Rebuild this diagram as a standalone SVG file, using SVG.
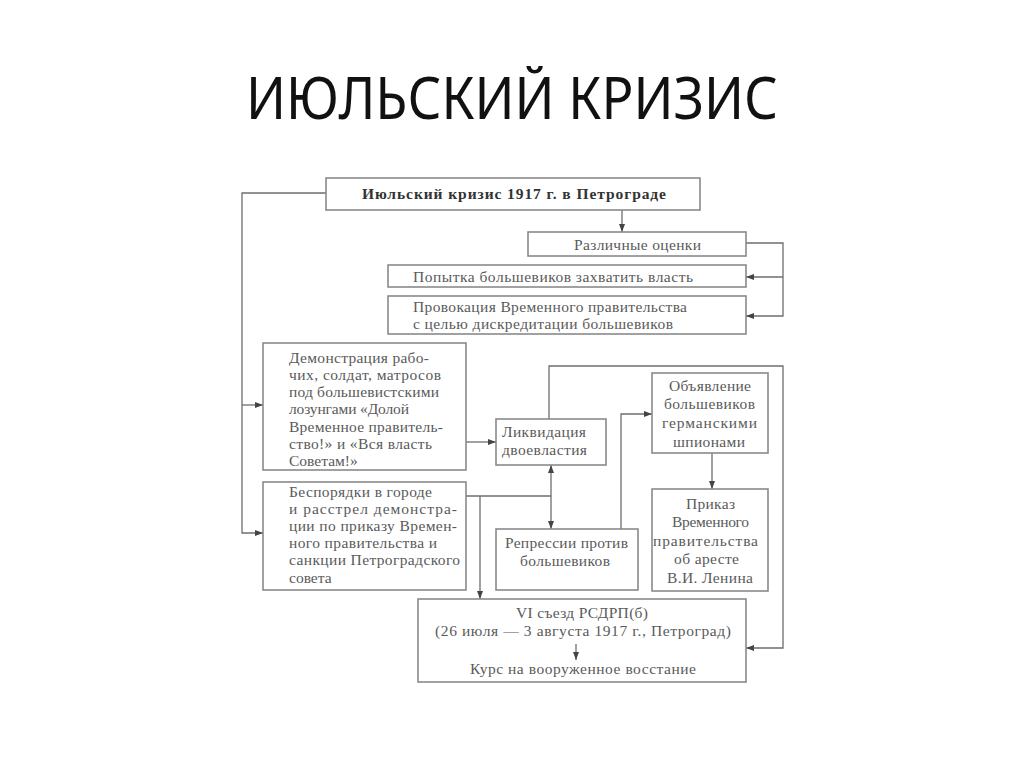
<svg xmlns="http://www.w3.org/2000/svg" width="1024" height="767" viewBox="0 0 1024 767">
<style>
.box{fill:#fff;stroke:#8a8a8a;stroke-width:1.6}
.t{font-family:"Liberation Serif","DejaVu Serif",serif;font-size:15.5px;fill:#5a5a5a}
.b{font-family:"Liberation Serif","DejaVu Serif",serif;font-size:15.5px;font-weight:bold;fill:#333}
.c{fill:none;stroke:#6e6e6e;stroke-width:1.3}
</style>
<defs>
<marker id="ah" markerUnits="userSpaceOnUse" markerWidth="8" markerHeight="6" refX="8" refY="3" orient="auto-start-reverse">
<path d="M0,0 L8,3 L0,6 z" fill="#444"/>
</marker>
</defs>
<rect width="1024" height="767" fill="#fff"/>
<text x="246" y="119" textLength="532" lengthAdjust="spacingAndGlyphs" font-family="'Noto Sans','Open Sans',sans-serif" font-size="59" fill="#111">ИЮЛЬСКИЙ КРИЗИС</text>

<g id="connectors">
<polyline class="c" points="326,193 242,193 242,533 263,533" marker-end="url(#ah)"/>
<line class="c" x1="242" y1="405" x2="263" y2="405" marker-end="url(#ah)"/>
<line class="c" x1="622" y1="210" x2="622" y2="232" marker-end="url(#ah)"/>
<polyline class="c" points="746,243 783,243 783,316 746,316" marker-end="url(#ah)"/>
<line class="c" x1="783" y1="277" x2="746" y2="277" marker-end="url(#ah)"/>
<line class="c" x1="466" y1="442" x2="496" y2="442" marker-end="url(#ah)"/>
<polyline class="c" points="549,419 549,366 783,366 783,648 746,648" marker-end="url(#ah)"/>
<line class="c" x1="551" y1="465" x2="551" y2="529" marker-start="url(#ah)" marker-end="url(#ah)"/>
<polyline class="c" points="466,496 551,496"/>
<line class="c" x1="480" y1="496" x2="480" y2="599" marker-end="url(#ah)"/>
<polyline class="c" points="621,529 621,414 652,414" marker-end="url(#ah)"/>
<line class="c" x1="712" y1="453" x2="712" y2="489" marker-end="url(#ah)"/>
</g>

<g id="n-main">
<rect class="box" x="326" y="178" width="374" height="32"/>
<text class="b" x="362" y="199" textLength="304">Июльский кризис 1917 г. в Петрограде</text>
</g>
<g id="n-ocenki">
<rect class="box" x="528" y="232" width="218" height="24"/>
<text class="t" x="574" y="250" textLength="127">Различные оценки</text>
</g>
<g id="n-popytka">
<rect class="box" x="388" y="265" width="358" height="22"/>
<text class="t" x="413" y="282" textLength="280">Попытка большевиков захватить власть</text>
</g>
<g id="n-provokacia">
<rect class="box" x="388" y="296" width="358" height="38"/>
<text class="t" x="413" y="312" textLength="274">Провокация Временного правительства</text>
<text class="t" x="413" y="329" textLength="260">с целью дискредитации большевиков</text>
</g>
<g id="n-demonstracia">
<rect class="box" x="263" y="343" width="203" height="127"/>
<text class="t" x="289" y="363" textLength="140">Демонстрация рабо-</text>
<text class="t" x="289" y="380" textLength="152">чих, солдат, матросов</text>
<text class="t" x="289" y="397" textLength="150">под большевистскими</text>
<text class="t" x="289" y="414" textLength="120">лозунгами «Долой</text>
<text class="t" x="289" y="432" textLength="154">Временное правитель-</text>
<text class="t" x="289" y="449" textLength="143">ство!» и «Вся власть</text>
<text class="t" x="289" y="466">Советам!»</text>
</g>
<g id="n-besporyadki">
<rect class="box" x="263" y="482" width="203" height="108"/>
<text class="t" x="289" y="497" textLength="143">Беспорядки в городе</text>
<text class="t" x="289" y="514" textLength="168">и расстрел демонстра-</text>
<text class="t" x="289" y="531" textLength="168">ции по приказу Времен-</text>
<text class="t" x="289" y="548" textLength="148">ного правительства и</text>
<text class="t" x="289" y="565" textLength="171">санкции Петроградского</text>
<text class="t" x="289" y="583">совета</text>
</g>
<g id="n-likvidacia">
<rect class="box" x="496" y="419" width="110" height="46"/>
<text class="t" x="502" y="437" textLength="84">Ликвидация</text>
<text class="t" x="502" y="455" textLength="85">двоевластия</text>
</g>
<g id="n-obyavlenie">
<rect class="box" x="652" y="373" width="116" height="80"/>
<text class="t" x="669" y="391" textLength="82">Объявление</text>
<text class="t" x="664" y="409" textLength="91">большевиков</text>
<text class="t" x="662" y="428" textLength="95">германскими</text>
<text class="t" x="673" y="447" textLength="72">шпионами</text>
</g>
<g id="n-prikaz">
<rect class="box" x="652" y="489" width="116" height="102"/>
<text class="t" x="686" y="509" textLength="49">Приказ</text>
<text class="t" x="672" y="527" textLength="77">Временного</text>
<text class="t" x="653" y="546" textLength="105">правительства</text>
<text class="t" x="674" y="564" textLength="65">об аресте</text>
<text class="t" x="667" y="583" textLength="86">В.И. Ленина</text>
</g>
<g id="n-repressii">
<rect class="box" x="496" y="529" width="142" height="61"/>
<text class="t" x="505" y="548" textLength="123">Репрессии против</text>
<text class="t" x="520" y="566" textLength="90">большевиков</text>
</g>
<g id="n-syezd">
<rect class="box" x="418" y="599" width="328" height="83"/>
<text class="t" x="516" y="618" textLength="132">VI съезд РСДРП(б)</text>
<text class="t" x="435" y="636" textLength="296">(26 июля — 3 августа 1917 г., Петроград)</text>
<line class="c" x1="576" y1="644" x2="576" y2="660" marker-end="url(#ah)"/>
<text class="t" x="470" y="674" textLength="226">Курс на вооруженное восстание</text>
</g>
</svg>
